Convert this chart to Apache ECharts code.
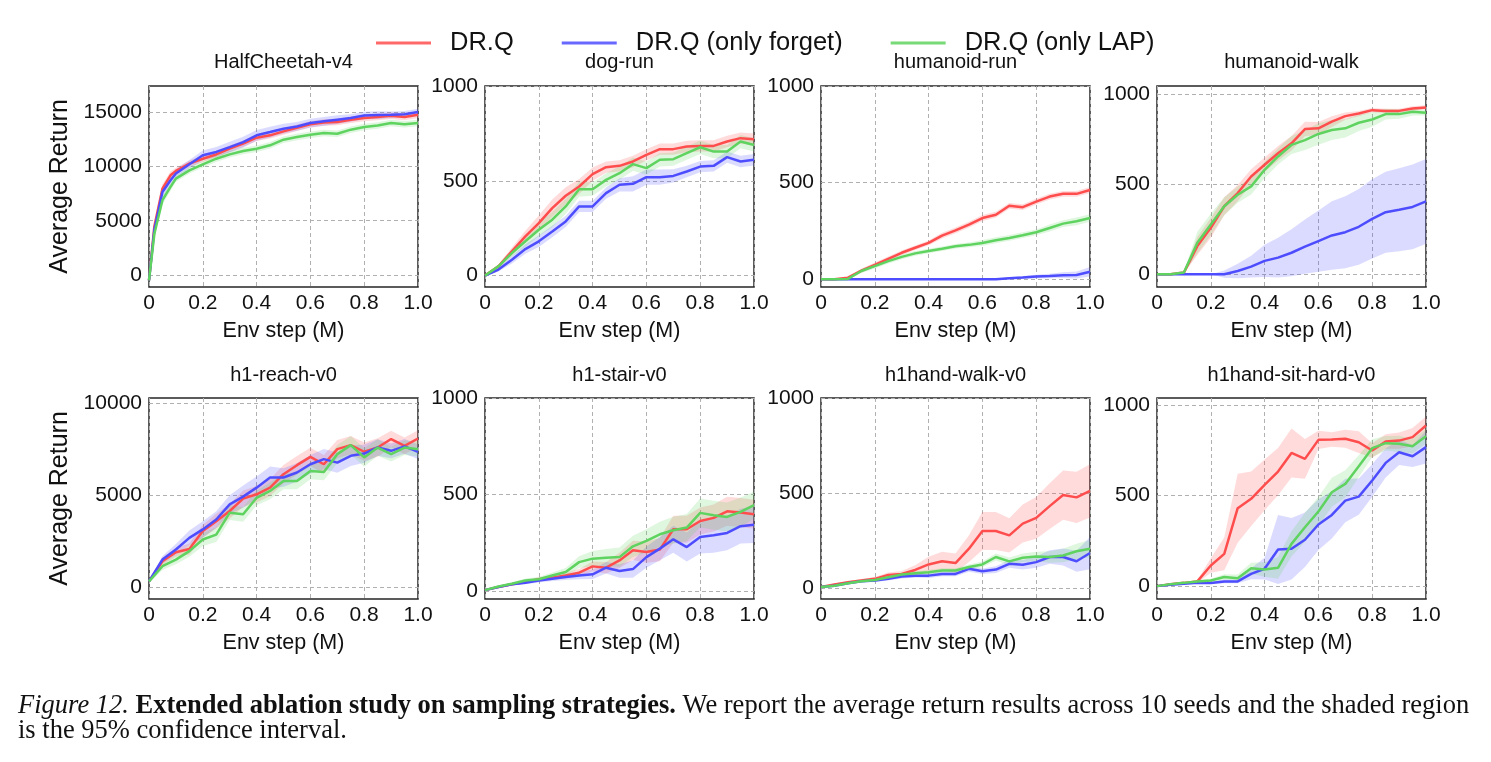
<!DOCTYPE html>
<html style="height: 100%">
<head>
  <meta charset="utf-8">
  <script src="https://cdn.jsdelivr.net/npm/echarts@6/dist/echarts.min.js"></script>
</head>
<body style="height: 100%; margin: 0; background: #fff">
<div id="container" style="width: 1491px; height: 762px"></div>
<script type="text/javascript">
// ---- data ----
var seriesNames = ['DR.Q', 'DR.Q (only forget)', 'DR.Q (only LAP)'];
var panelTitles = ['HalfCheetah-v4', 'dog-run', 'humanoid-run', 'humanoid-walk',
                   'h1-reach-v0', 'h1-stair-v0', 'h1hand-walk-v0', 'h1hand-sit-hard-v0'];
var xTicks = [0, 0.2, 0.4, 0.6, 0.8, 1.0];

var steps = [0, 0.05, 0.1, 0.15, 0.2, 0.25, 0.3, 0.35, 0.4, 0.45, 0.5,
             0.55, 0.6, 0.65, 0.7, 0.75, 0.8, 0.85, 0.9, 0.95, 1.0];
var cheetahSteps = [0, 0.02, 0.05, 0.08, 0.1, 0.15, 0.2, 0.25, 0.3, 0.35, 0.4, 0.45,
                    0.5, 0.55, 0.6, 0.65, 0.7, 0.75, 0.8, 0.85, 0.9, 0.95, 1.0];

// HalfCheetah-v4
var cheetahDrq    = [-500, 4500, 7960, 9180, 9580, 10250, 10700, 11100, 11630, 12090, 12640, 12860, 13220, 13560, 13870, 14050, 14080, 14300, 14450, 14540, 14660, 14540, 14750];
var cheetahForget = [-500, 4200, 7650, 8720, 9340, 10200, 11020, 11330, 11780, 12240, 12860, 13160, 13470, 13680, 13990, 14150, 14300, 14450, 14690, 14720, 14750, 14800, 15000];
var cheetahLap    = [-500, 3800, 6890, 8110, 8880, 9640, 10190, 10710, 11110, 11420, 11630, 11940, 12460, 12700, 12920, 13070, 13010, 13380, 13620, 13770, 13990, 13870, 13990];
var cheetahDrqCi    = [200, 400, 400, 350, 300, 300, 300, 300, 300, 300, 300, 300, 300, 300, 300, 300, 300, 300, 300, 300, 300, 300, 300];
var cheetahForgetCi = [200, 500, 500, 400, 400, 400, 450, 450, 500, 500, 500, 500, 450, 400, 400, 400, 400, 350, 350, 350, 300, 300, 300];
var cheetahLapCi    = [200, 400, 400, 350, 300, 300, 300, 300, 300, 300, 300, 300, 300, 300, 300, 300, 300, 300, 300, 300, 300, 300, 300];

// dog-run
var dogDrq    = [0, 49, 128, 207, 277, 356, 421, 470, 535, 572, 579, 602, 637, 667, 667, 681, 684, 684, 707, 725, 719];
var dogForget = [0, 32, 84, 140, 181, 233, 286, 365, 365, 435, 479, 484, 519, 519, 526, 549, 575, 579, 625, 602, 611];
var dogLap    = [0, 49, 119, 181, 242, 295, 365, 456, 456, 505, 540, 588, 567, 611, 614, 646, 677, 654, 654, 707, 689];
var dogDrqCi    = [5, 10, 20, 30, 40, 45, 45, 40, 35, 30, 30, 30, 30, 30, 30, 30, 30, 30, 30, 30, 30];
var dogForgetCi = [5, 10, 20, 25, 30, 30, 30, 30, 30, 30, 35, 40, 40, 40, 35, 30, 30, 30, 30, 30, 30];
var dogLapCi    = [5, 10, 20, 30, 35, 40, 40, 40, 35, 35, 35, 35, 35, 35, 35, 35, 35, 35, 35, 35, 35];

// humanoid-run
var hrunDrq    = [0, 0, 8, 45, 75, 106, 137, 163, 188, 226, 253, 283, 317, 334, 380, 373, 402, 428, 442, 442, 462];
var hrunForget = [0, 0, 0, 0, 0, 0, 0, 0, 0, 0, 0, 0, 0, 0, 5, 9, 14, 17, 21, 22, 39];
var hrunLap    = [0, 0, 2, 43, 68, 94, 116, 134, 146, 158, 171, 178, 188, 202, 214, 228, 243, 265, 288, 300, 317];
var hrunDrqCi    = [0, 0, 3, 10, 12, 12, 12, 12, 12, 15, 15, 15, 15, 15, 15, 15, 15, 15, 15, 15, 15];
var hrunForgetCi = [0, 0, 0, 0, 0, 0, 0, 0, 0, 0, 0, 0, 0, 2, 5, 8, 10, 12, 15, 18, 25];
var hrunLapCi    = [0, 0, 3, 10, 12, 12, 12, 12, 12, 12, 12, 12, 15, 15, 15, 15, 15, 18, 18, 20, 20];

// humanoid-walk
var hwalkDrq    = [0, 0, 9, 156, 257, 377, 450, 542, 607, 671, 726, 805, 809, 846, 877, 891, 910, 906, 906, 919, 925];
var hwalkForget = [0, 0, 0, 0, 0, 0, 18, 42, 74, 92, 119, 153, 184, 215, 233, 263, 307, 344, 358, 373, 404];
var hwalkLap    = [0, 0, 9, 175, 276, 377, 441, 487, 579, 653, 717, 744, 778, 800, 809, 840, 858, 888, 888, 901, 895];
var hwalkDrqCi    = [0, 0, 5, 50, 55, 50, 45, 40, 40, 40, 40, 40, 35, 30, 20, 15, 12, 12, 12, 12, 12];
var hwalkForgetCi = [0, 0, 0, 0, 0, 20, 40, 60, 90, 110, 130, 150, 170, 190, 200, 210, 220, 225, 230, 235, 235];
var hwalkLapCi    = [0, 0, 5, 60, 60, 50, 45, 45, 45, 45, 50, 55, 60, 55, 50, 45, 40, 30, 25, 20, 15];

// h1-reach-v0
var reachDrq    = [309, 1400, 1890, 2070, 3040, 3580, 4130, 4800, 5040, 5400, 6130, 6620, 7070, 6670, 7490, 7710, 7350, 7580, 8040, 7670, 8070];
var reachForget = [309, 1490, 2040, 2670, 3130, 3670, 4490, 4910, 5400, 5950, 5950, 6220, 6670, 6950, 6760, 7130, 7250, 7580, 7400, 7640, 7350];
var reachLap    = [309, 1130, 1490, 1950, 2580, 2850, 4040, 3950, 4850, 5220, 5760, 5760, 6310, 6250, 7220, 7710, 7040, 7580, 7220, 7580, 7490];
var reachDrqCi    = [100, 200, 250, 300, 350, 400, 400, 450, 450, 450, 500, 500, 500, 500, 500, 500, 500, 500, 450, 450, 450];
var reachForgetCi = [100, 200, 300, 400, 450, 450, 500, 600, 600, 600, 500, 500, 500, 550, 550, 550, 500, 450, 400, 400, 400];
var reachLapCi    = [100, 200, 250, 300, 350, 400, 400, 400, 400, 450, 450, 450, 450, 450, 500, 500, 500, 450, 400, 400, 400];

// h1-stair-v0
var stairDrq    = [5, 21, 35, 47, 61, 69, 81, 95, 128, 121, 159, 211, 202, 215, 320, 320, 363, 379, 413, 407, 398];
var stairForget = [5, 21, 35, 43, 55, 64, 73, 81, 87, 121, 104, 114, 176, 220, 268, 228, 280, 289, 301, 336, 344];
var stairLap    = [5, 24, 38, 55, 61, 81, 99, 150, 168, 173, 176, 232, 260, 294, 315, 329, 405, 393, 384, 410, 445];
var stairDrqCi    = [3, 5, 6, 8, 10, 12, 15, 20, 25, 30, 40, 50, 55, 60, 70, 70, 70, 70, 75, 75, 75];
var stairForgetCi = [3, 5, 6, 8, 10, 12, 15, 20, 25, 30, 35, 45, 55, 60, 70, 75, 85, 90, 90, 90, 95];
var stairLapCi    = [3, 5, 8, 10, 12, 15, 20, 30, 40, 45, 50, 55, 60, 65, 70, 70, 75, 75, 75, 75, 70];

// h1hand-walk-v0
var hhwalkDrq    = [5, 18, 30, 39, 48, 69, 74, 95, 124, 141, 131, 207, 300, 300, 277, 339, 369, 431, 489, 477, 511];
var hhwalkForget = [5, 12, 25, 35, 39, 48, 60, 65, 65, 74, 74, 101, 88, 97, 127, 122, 136, 163, 163, 141, 184];
var hhwalkLap    = [5, 12, 25, 35, 42, 57, 71, 78, 83, 92, 92, 110, 124, 163, 140, 159, 166, 163, 171, 193, 207];
var hhwalkDrqCi    = [3, 5, 6, 8, 10, 12, 15, 25, 40, 50, 50, 70, 100, 100, 90, 100, 110, 120, 130, 135, 140];
var hhwalkForgetCi = [3, 4, 5, 6, 8, 8, 10, 10, 12, 12, 12, 15, 15, 18, 20, 25, 30, 35, 45, 55, 85];
var hhwalkLapCi    = [3, 4, 5, 6, 8, 8, 10, 10, 12, 12, 12, 14, 15, 18, 20, 22, 25, 30, 35, 40, 45];

// h1hand-sit-hard-v0
var sitDrq    = [0, 11, 18, 26, 114, 178, 430, 482, 559, 632, 735, 702, 807, 809, 813, 794, 748, 798, 803, 822, 886];
var sitForget = [0, 8, 13, 18, 17, 26, 26, 68, 96, 202, 206, 256, 340, 393, 472, 494, 583, 680, 739, 717, 767];
var sitLap    = [0, 11, 18, 26, 31, 50, 44, 99, 92, 101, 233, 325, 412, 518, 564, 662, 761, 789, 785, 772, 827];
var sitDrqCi    = [3, 5, 5, 8, 40, 90, 190, 150, 140, 130, 135, 110, 50, 40, 50, 60, 40, 40, 45, 50, 50];
var sitForgetCi = [3, 5, 5, 5, 5, 10, 10, 30, 60, 190, 170, 150, 140, 130, 120, 100, 90, 80, 70, 60, 90];
var sitLapCi    = [3, 5, 5, 8, 10, 15, 20, 30, 40, 60, 70, 80, 80, 80, 75, 60, 50, 40, 45, 40, 40];

// y axis ranges and tick labels per panel
var yMins = [-1100, -60, -40, -71, -650, -41, -58, -71];
var yMaxs = [17400, 1000, 1000, 1044, 10270, 1000, 1000, 1038];
var yTicks = [
  [0, 5000, 10000, 15000], [0, 500, 1000], [0, 500, 1000], [0, 500, 1000],
  [0, 5000, 10000], [0, 500, 1000], [0, 500, 1000], [0, 500, 1000]
];

var panels = [
  {x: cheetahSteps, m: [cheetahDrq, cheetahForget, cheetahLap], ci: [cheetahDrqCi, cheetahForgetCi, cheetahLapCi]},
  {x: steps, m: [dogDrq, dogForget, dogLap], ci: [dogDrqCi, dogForgetCi, dogLapCi]},
  {x: steps, m: [hrunDrq, hrunForget, hrunLap], ci: [hrunDrqCi, hrunForgetCi, hrunLapCi]},
  {x: steps, m: [hwalkDrq, hwalkForget, hwalkLap], ci: [hwalkDrqCi, hwalkForgetCi, hwalkLapCi]},
  {x: steps, m: [reachDrq, reachForget, reachLap], ci: [reachDrqCi, reachForgetCi, reachLapCi]},
  {x: steps, m: [stairDrq, stairForget, stairLap], ci: [stairDrqCi, stairForgetCi, stairLapCi]},
  {x: steps, m: [hhwalkDrq, hhwalkForget, hhwalkLap], ci: [hhwalkDrqCi, hhwalkForgetCi, hhwalkLapCi]},
  {x: steps, m: [sitDrq, sitForget, sitLap], ci: [sitDrqCi, sitForgetCi, sitLapCi]}
];

// ---- styling / layout ----
var lineColors = ['#ff4d4d', '#4d4dff', '#5fd35f'];
var bandColors = ['rgba(255,77,77,0.2)', 'rgba(77,77,255,0.2)', 'rgba(95,211,95,0.2)'];
var colLeft = [149, 485, 821, 1157];
var rowTop = [86, 398];
var plotW = 269, plotH = 201;
var sans = 'Liberation Sans, Arial, sans-serif';
var serifFont = '26.5px Liberation Serif, Times New Roman, serif';

var dom = document.getElementById('container');
var myChart = echarts.init(dom);

var grids = [], xAxes = [], yAxes = [], series = [], graphics = [];

function bandSeries(gi, xs, mean, ci, k) {
  var pts = xs.map(function (x, i) { return [x, mean[i] - ci[i], mean[i] + ci[i]]; });
  return {
    type: 'custom',
    name: seriesNames[k] + ' CI',
    xAxisIndex: gi,
    yAxisIndex: gi,
    silent: true,
    clip: true,
    z: 1,
    data: pts,
    encode: {x: 0, y: [1, 2]},
    renderItem: function (params, api) {
      if (params.dataIndex !== 0) return null;
      var up = pts.map(function (p) { return api.coord([p[0], p[2]]); });
      var lo = pts.map(function (p) { return api.coord([p[0], p[1]]); }).reverse();
      return {
        type: 'polygon',
        shape: {points: up.concat(lo)},
        style: {fill: bandColors[k], stroke: null}
      };
    }
  };
}

for (var g = 0; g < 8; g++) {
  var col = g % 4, row = Math.floor(g / 4);
  grids.push({
    left: colLeft[col], top: rowTop[row], width: plotW, height: plotH,
    show: true, borderColor: '#262626', borderWidth: 1.5, backgroundColor: 'transparent'
  });
  xAxes.push({
    type: 'value', gridIndex: g, min: 0, max: 1, interval: 0.2,
    name: 'Env step (M)', nameLocation: 'middle', nameGap: 33,
    nameTextStyle: {fontFamily: sans, fontSize: 21.5, color: '#111'},
    axisLine: {show: false}, axisTick: {show: false},
    axisLabel: {
      fontFamily: sans, fontSize: 21, color: '#111', margin: 6,
      formatter: function (v) { return v === 0 ? '0' : v.toFixed(1); }
    },
    splitLine: {show: true, lineStyle: {color: '#b0b0b0', type: [4, 3], width: 1}}
  });
  var ya = {
    type: 'value', gridIndex: g, min: yMins[g], max: yMaxs[g],
    axisLine: {show: false},
    axisTick: {show: false, customValues: yTicks[g]},
    axisLabel: {
      fontFamily: sans, fontSize: 21, color: '#111', margin: 7,
      customValues: yTicks[g],
      formatter: function (v) { return String(v); }
    },
    splitLine: {show: true, lineStyle: {color: '#b0b0b0', type: [4, 3], width: 1}}
  };
  if (col === 0) {
    ya.name = 'Average Return';
    ya.nameLocation = 'middle';
    ya.nameGap = 76;
    ya.nameTextStyle = {fontFamily: sans, fontSize: 25, color: '#111'};
  }
  yAxes.push(ya);

  var p = panels[g];
  for (var k = 0; k < 3; k++) {
    series.push(bandSeries(g, p.x, p.m[k], p.ci[k], k));
  }
  for (var k2 = 0; k2 < 3; k2++) {
    series.push({
      type: 'line',
      name: seriesNames[k2],
      xAxisIndex: g, yAxisIndex: g,
      data: p.x.map(function (x, i) { return [x, this[i]]; }, p.m[k2]),
      showSymbol: false,
      color: lineColors[k2],
      lineStyle: {width: 2.5, color: lineColors[k2]},
      z: 3
    });
  }

  graphics.push({
    type: 'text',
    x: colLeft[col] + plotW / 2,
    y: row === 0 ? 62 : 375,
    style: {
      text: panelTitles[g], align: 'center', verticalAlign: 'middle',
      font: '20px ' + sans, fill: '#111'
    }
  });
}

// caption below the figure
graphics.push({
  type: 'text', x: 18, y: 706,
  style: {
    text: '{i|Figure 12.} {b|Extended ablation study on sampling strategies.} We report the average return results across 10 seeds and the shaded region',
    verticalAlign: 'middle',
    font: serifFont, fill: '#111',
    rich: {
      i: {fontStyle: 'italic', fontFamily: 'Liberation Serif', fontSize: 26.5, fill: '#111'},
      b: {fontWeight: 'bold', fontFamily: 'Liberation Serif', fontSize: 26.5, fill: '#111'}
    }
  }
});
graphics.push({
  type: 'text', x: 18, y: 731,
  style: {
    text: 'is the 95% confidence interval.',
    verticalAlign: 'middle',
    font: serifFont, fill: '#111'
  }
});

option = {
  backgroundColor: '#ffffff',
  animation: false,
  legend: {
    data: seriesNames,
    left: 371, top: 25,
    icon: 'rect', itemWidth: 55, itemHeight: 3, itemGap: 48,
    itemStyle: {opacity: 0.85},
    textStyle: {fontFamily: sans, fontSize: 25.5, color: '#111', padding: [0, 0, 0, 14]}
  },
  grid: grids,
  xAxis: xAxes,
  yAxis: yAxes,
  series: series,
  graphic: graphics
};

if (option && typeof option === 'object') {
  myChart.setOption(option, true);
}
</script>
</body>
</html>
